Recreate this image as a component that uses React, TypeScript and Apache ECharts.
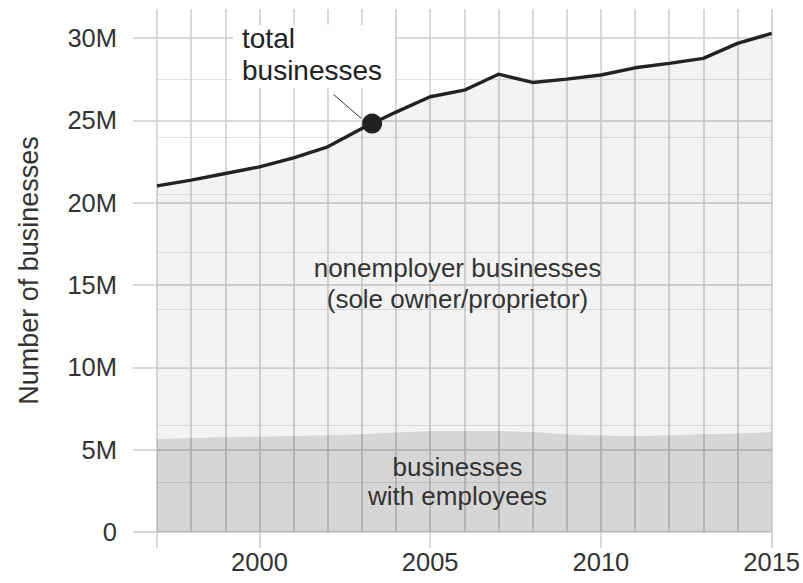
import React, { useEffect, useRef } from "react";
import * as echarts from "echarts";

// ---- data (values in millions) ----
const years = [1997, 1998, 1999, 2000, 2001, 2002, 2003, 2004, 2005, 2006, 2007, 2008, 2009, 2010, 2011, 2012, 2013, 2014, 2015];
const totalBusinesses = [21.02, 21.37, 21.77, 22.17, 22.72, 23.39, 24.5, 25.5, 26.43, 26.83, 27.8, 27.3, 27.5, 27.75, 28.19, 28.46, 28.76, 29.67, 30.28];
const employerBusinesses = [5.65, 5.71, 5.75, 5.79, 5.83, 5.87, 5.94, 6.04, 6.14, 6.14, 6.14, 6.08, 5.92, 5.86, 5.81, 5.87, 5.94, 5.98, 6.07];
const yTickValues = [0, 5, 10, 15, 20, 25, 30];
const minorGridValues = [3, 6.5, 10, 13.5, 17, 20.5, 24, 27.5];
const xTickYears = [1997, 2000, 2005, 2010, 2015];
const xLabelYears = [2000, 2005, 2010, 2015];
const highlightPoint = [2003.3, 24.8];
const leaderLine = [[2002.17, 26.57], [2002.98, 25.12]];

const FONT = "Liberation Sans";
const GRID = "#cccccc";

export default function App() {
  const ref = useRef<HTMLDivElement>(null);
  useEffect(() => {
    if (!ref.current) return;
    const chart = echarts.init(ref.current, null, { renderer: "svg" });
    const option: any = {
      animation: false,
      backgroundColor: "#ffffff",
      textStyle: { fontFamily: FONT },
      grid: { left: 157, right: 30, top: 9, bottom: 51, containLabel: false },
      xAxis: [
        {
          type: "value", min: 1997, max: 2015, interval: 1,
          axisLine: { show: false }, axisTick: { show: false }, axisLabel: { show: false },
          splitLine: { show: true, lineStyle: { color: GRID, width: 1.5 } },
        },
        {
          type: "value", min: 1997, max: 2015, interval: 1, position: "bottom",
          axisLine: { show: false },
          axisTick: { show: true, customValues: xTickYears, length: 16, lineStyle: { color: GRID, width: 1.5 } },
          axisLabel: {
            show: true, customValues: xLabelYears, fontSize: 25.5, color: "#333", margin: 17, fontFamily: FONT,
            formatter: (v: number) => String(v),
          },
          splitLine: { show: false },
        },
      ],
      yAxis: [
        {
          type: "value", min: 0, max: 31.76, interval: 5,
          name: "Number of businesses", nameLocation: "middle", nameRotate: 90, nameGap: 115,
          nameTextStyle: { fontSize: 27, color: "#333", fontFamily: FONT },
          axisLine: { show: false },
          axisTick: { show: true, customValues: yTickValues, length: 24, lineStyle: { color: GRID, width: 1.5 } },
          axisLabel: {
            show: true, customValues: yTickValues, fontSize: 25.5, color: "#333", margin: 40, fontFamily: FONT,
            formatter: (v: number) => (v === 0 ? "0" : v + "M"),
          },
          splitLine: { show: true, lineStyle: { color: GRID, width: 1.5 } },
        },
        {
          type: "value", min: 0, max: 31.76, position: "left",
          axisLine: { show: false },
          axisTick: { show: false, customValues: minorGridValues },
          axisLabel: { show: false },
          splitLine: { show: true, lineStyle: { color: "#e2e2e2", width: 1 } },
        },
      ],
      series: [
        {
          name: "total", type: "line", xAxisIndex: 0, yAxisIndex: 0,
          data: years.map((y, i) => [y, totalBusinesses[i]]),
          symbol: "none", lineStyle: { width: 3.4, color: "#222" },
          areaStyle: { color: "rgba(0,0,0,0.047)", opacity: 1 },
          z: 2,
        },
        {
          name: "employer", type: "line", xAxisIndex: 0, yAxisIndex: 0,
          data: years.map((y, i) => [y, employerBusinesses[i]]),
          symbol: "none", lineStyle: { width: 0 },
          areaStyle: { color: "rgba(0,0,0,0.119)", opacity: 1 },
          z: 3,
        },
        {
          name: "leader", type: "line", xAxisIndex: 0, yAxisIndex: 0,
          data: leaderLine, symbol: "none", lineStyle: { width: 1, color: "#333" }, z: 5,
        },
        {
          name: "dot", type: "scatter", xAxisIndex: 0, yAxisIndex: 0,
          data: [highlightPoint], symbolSize: 20, itemStyle: { color: "#222", opacity: 1 }, z: 6,
        },
      ],
      graphic: [
        { type: "rect", shape: { x: 233, y: 25, width: 162, height: 63 }, style: { fill: "#ffffff" }, z: 10 },
        { type: "text", x: 242, y: 38, z: 11, style: { text: "total", fontSize: 28, fontFamily: FONT, fill: "#222", align: "left", verticalAlign: "middle" } },
        { type: "text", x: 242, y: 70, z: 11, style: { text: "businesses", fontSize: 28, fontFamily: FONT, fill: "#222", align: "left", verticalAlign: "middle" } },
        { type: "text", x: 457.5, y: 268, z: 11, style: { text: "nonemployer businesses", fontSize: 26, fontFamily: FONT, fill: "#333", align: "center", verticalAlign: "middle" } },
        { type: "text", x: 457.5, y: 299, z: 11, style: { text: "(sole owner/proprietor)", fontSize: 26, fontFamily: FONT, fill: "#333", align: "center", verticalAlign: "middle" } },
        { type: "text", x: 457.5, y: 467, z: 11, style: { text: "businesses", fontSize: 26, fontFamily: FONT, fill: "#333", align: "center", verticalAlign: "middle" } },
        { type: "text", x: 457.5, y: 496, z: 11, style: { text: "with employees", fontSize: 26, fontFamily: FONT, fill: "#333", align: "center", verticalAlign: "middle" } },
      ],
    };
    chart.setOption(option);
    return () => chart.dispose();
  }, []);
  return <div ref={ref} style={{ position: "fixed", left: 0, top: 0, width: 803, height: 583 }} />;
}
